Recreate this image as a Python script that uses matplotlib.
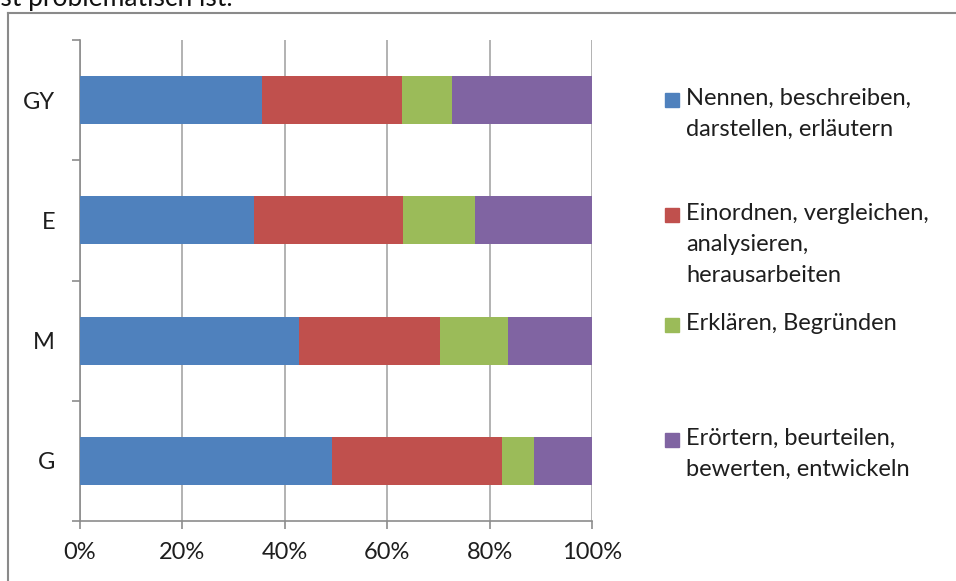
import matplotlib
matplotlib.use("Agg")
import matplotlib.pyplot as plt
from matplotlib.lines import Line2D
from matplotlib.patches import Rectangle
import numpy as np

categories = ["G", "M", "E", "GY"]
series_names = [
    "Nennen, beschreiben,\ndarstellen, erläutern",
    "Einordnen, vergleichen,\nanalysieren,\nherausarbeiten",
    "Erklären, Begründen",
    "Erörtern, beurteilen,\nbewerten, entwickeln",
]
nennen = [49.2, 42.8, 34.0, 35.5]
einordnen = [33.2, 27.6, 29.1, 27.4]
erklaeren = [6.2, 13.1, 14.0, 9.8]
eroertern = [11.4, 16.5, 22.9, 27.3]
colors = ["#4F81BD", "#C0504D", "#9BBB59", "#8064A2"]
xticks = [0, 20, 40, 60, 80, 100]
xticklabels = ["0%", "20%", "40%", "60%", "80%", "100%"]

plt.rcParams['font.family'] = ['Lato', 'DejaVu Sans']
W, H = 956, 581
fig = plt.figure(figsize=(W / 100, H / 100), dpi=100)
ax = fig.add_axes([80 / W, 1 - 521 / H, 512 / W, 481 / H])

gray = "#8c8c8c"
txt = "#1e1e1e"
y = np.arange(len(categories))
left = np.zeros(len(categories))
for vals, c in zip([nennen, einordnen, erklaeren, eroertern], colors):
    ax.barh(y, vals, left=left, height=0.4, color=c, edgecolor="none", zorder=3)
    left += np.array(vals)

ax.set_xlim(0, 100)
ax.set_ylim(-0.5, len(categories) - 0.5)
ax.set_xticks(xticks)
ax.set_xticklabels(xticklabels, fontsize=17, color=txt)
ax.set_yticks(y)
ax.set_yticklabels(categories, fontsize=17, color=txt)
ax.set_yticks(np.arange(-0.5, len(categories)), minor=True)
ax.tick_params(axis="y", which="major", length=0, pad=18)
ax.tick_params(axis="y", which="minor", length=6, color=gray, width=1.2, direction="out")
ax.tick_params(axis="x", which="major", length=6, color=gray, width=1.2, direction="out", pad=9)
ax.grid(axis="x", color="#a6a6a6", linewidth=1.2, zorder=0)
for s in ["top", "right"]:
    ax.spines[s].set_visible(False)
for s in ["left", "bottom"]:
    ax.spines[s].set_color(gray)
    ax.spines[s].set_linewidth(1.2)

# legend (manual, Excel-like spacing)
leg_y = [100, 215, 325, 440]
for name, c, ly in zip(series_names, colors, leg_y):
    fig.patches.append(Rectangle((665 / W, 1 - (ly + 7) / H), 14 / W, 14 / H,
                                 transform=fig.transFigure, color=c))
    fig.text(686 / W, 1 - (ly - 12) / H, name, fontsize=17, color=txt,
             va="top", ha="left", linespacing=1.6)

# chart frame
fig.add_artist(Line2D([8 / W, 1], [1 - 13 / H, 1 - 13 / H], transform=fig.transFigure,
                      color="#8a8a8a", linewidth=1.5))
fig.add_artist(Line2D([8 / W, 8 / W], [1 - 13 / H, 0], transform=fig.transFigure,
                      color="#8a8a8a", linewidth=1.5))

# cut-off text above the chart
fig.text(-6 / W, 1 - 6 / H, "ist problematisch ist.", fontsize=19, color="#111111",
         va="baseline", ha="left")

fig.savefig("out.png", dpi=100)
